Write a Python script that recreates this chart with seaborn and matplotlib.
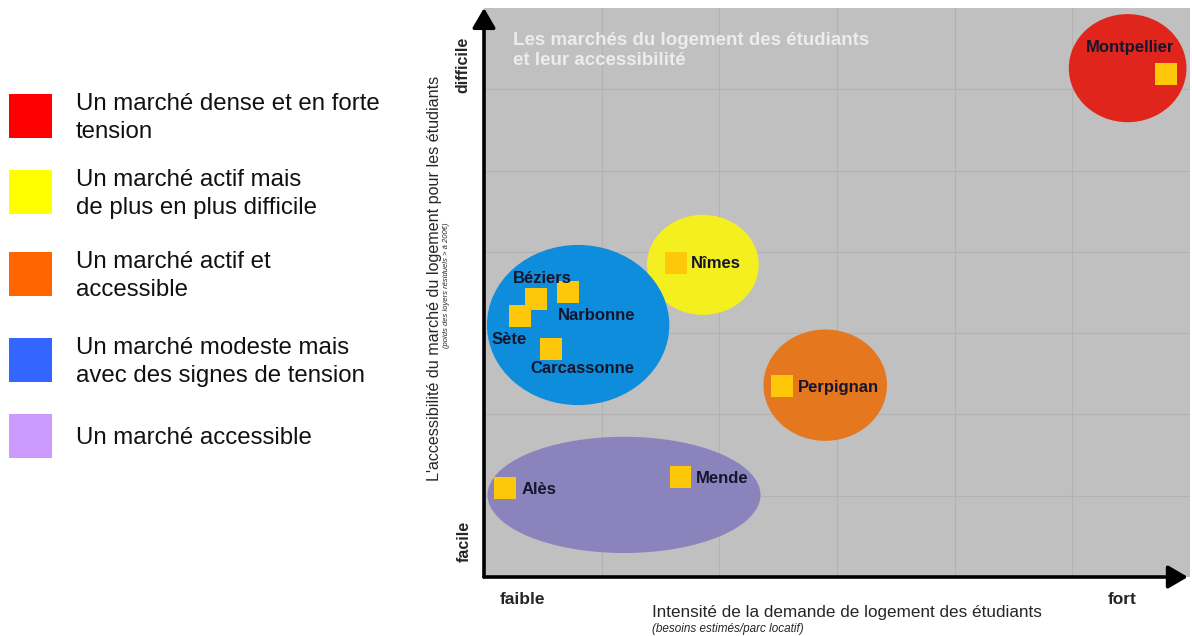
import matplotlib
matplotlib.use("Agg")
import matplotlib.pyplot as plt
from matplotlib.patches import Ellipse, Rectangle
import pandas as pd
import seaborn as sns

# Zones (market types): centre and extent in chart units (x: demand 0-6, y: accessibility 0-7)
zone_names = ["dense", "actif_difficile", "actif_accessible", "modeste", "accessible"]
zone_x = [5.47, 1.86, 2.90, 0.80, 1.19]
zone_y = [6.26, 3.84, 2.36, 3.10, 1.01]
zone_w = [1.00, 0.95, 1.05, 1.55, 2.32]
zone_h = [1.33, 1.23, 1.37, 1.97, 1.43]
zone_colors = ["#e0261c", "#f4ef1f", "#e5781e", "#0d8ddb", "#8b83bb"]

# Cities
cities = ["Montpellier", "Nîmes", "Béziers", "Narbonne", "Sète",
          "Carcassonne", "Perpignan", "Alès", "Mende"]
city_x = [5.80, 1.63, 0.44, 0.71, 0.31, 0.57, 2.53, 0.18, 1.67]
city_y = [6.19, 3.86, 3.42, 3.51, 3.21, 2.80, 2.35, 1.09, 1.23]

# Legend
legend_labels = [
    "Un marché dense et en forte\ntension",
    "Un marché actif mais\nde plus en plus difficile",
    "Un marché actif et\naccessible",
    "Un marché modeste mais\navec des signes de tension",
    "Un marché accessible",
]
legend_colors = ["#ff0000", "#ffff00", "#ff6600", "#3366ff", "#cc99ff"]

sns.set_style("white")
plt.rcParams["font.family"] = ["Liberation Sans", "DejaVu Sans"]

W, H = 1192, 636
fig = plt.figure(figsize=(W / 100, H / 100), dpi=100)


def fx(px):
    return px / W


def fy(py):
    return 1 - py / H


ax = fig.add_axes([fx(484), fy(577), fx(1190) - fx(484), fy(8) - fy(577)])
ax.set_facecolor("#c0c0c0")
ax.set_xlim(0, 6)
ax.set_ylim(0, 7)
ax.set_xticks(range(1, 6))
ax.set_yticks(range(1, 7))
ax.grid(True, color="#b2b2b2", lw=0.8)
ax.set_axisbelow(True)
ax.tick_params(axis="x", length=5, color="#a0a0a0", width=0.8, labelbottom=False)
ax.tick_params(axis="y", length=0, labelleft=False)
for s in ax.spines.values():
    s.set_visible(False)

for x, y, w, h, c in zip(zone_x, zone_y, zone_w, zone_h, zone_colors):
    ax.add_patch(Ellipse((x, y), w, h, facecolor=c, edgecolor="none", zorder=2))

df = pd.DataFrame({"city": cities, "x": city_x, "y": city_y})
sns.scatterplot(data=df, x="x", y="y", marker="s", s=250, color="#ffc70a",
                edgecolor="none", linewidth=0, ax=ax, zorder=3, legend=False)
ax.set_xlabel("")
ax.set_ylabel("")

# label offsets in pixels (dx, dy up), alignment
offsets = {
    "Montpellier": (-36, 26, "center"),
    "Nîmes": (15, 0, "left"),
    "Béziers": (7, 21, "center"),
    "Narbonne": (29, -24, "center"),
    "Sète": (-11, -23, "center"),
    "Carcassonne": (31, -19, "center"),
    "Perpignan": (16, -2, "left"),
    "Alès": (16, -1, "left"),
    "Mende": (15, -1, "left"),
}
for name, x, y in zip(cities, city_x, city_y):
    dx, dy, ha = offsets[name]
    ax.annotate(name, (x, y), xytext=(dx * 0.72, dy * 0.72), textcoords="offset points",
                ha=ha, va="center", fontsize=12, fontweight="bold", color="#15152e", zorder=4)

# axis arrows
arrow = dict(arrowstyle="-|>,head_length=0.6,head_width=0.35", mutation_scale=20,
             lw=2.6, color="black", shrinkA=0, shrinkB=0)
ax.annotate("", xy=(0, 1), xytext=(0, 0), xycoords="axes fraction", arrowprops=arrow,
            annotation_clip=False)
ax.annotate("", xy=(0.997, 0), xytext=(0, 0), xycoords="axes fraction", arrowprops=arrow,
            annotation_clip=False)

# in-plot title
fig.text(fx(513), fy(32), "Les marchés du logement des étudiants\net leur accessibilité",
         ha="left", va="top", fontsize=13.5, fontweight="bold", color="#ececec",
         linespacing=1.2)

# axis texts
fig.text(fx(463), fy(65), "difficile", rotation=90, ha="center", va="center",
         fontsize=11.5, fontweight="bold")
fig.text(fx(464), fy(541), "facile", rotation=90, ha="center", va="center",
         fontsize=11.5, fontweight="bold")
fig.text(fx(522), fy(600), "faible", ha="center", va="center", fontsize=12.5, fontweight="bold")
fig.text(fx(1122), fy(600), "fort", ha="center", va="center", fontsize=12.5, fontweight="bold")
fig.text(fx(652), fy(612), "Intensité de la demande de logement des étudiants",
         ha="left", va="center", fontsize=12.3)
fig.text(fx(652), fy(629), "(besoins estimés/parc locatif)", ha="left", va="center",
         fontsize=8.5, style="italic")
fig.text(fx(434), fy(278), "L'accessibilité du marché du logement pour les étudiants",
         rotation=90, ha="center", va="center", fontsize=11.6)
fig.text(fx(447), fy(285), "(poids des loyers résiduels > à 200€)", rotation=90,
         ha="center", va="center", fontsize=5.5, style="italic")

# legend on the left
tops = [94, 170, 252, 338, 414]
for top, label, c in zip(tops, legend_labels, legend_colors):
    fig.add_artist(Rectangle((fx(9), fy(top + 44)), fx(52) - fx(9), fy(top) - fy(top + 44),
                             transform=fig.transFigure, facecolor=c, edgecolor="none"))
    fig.text(fx(76), fy(top + 24), label, ha="left", va="center", fontsize=17.3,
             linespacing=1.35, color="#111111")

plt.savefig("out.png", dpi=100)
